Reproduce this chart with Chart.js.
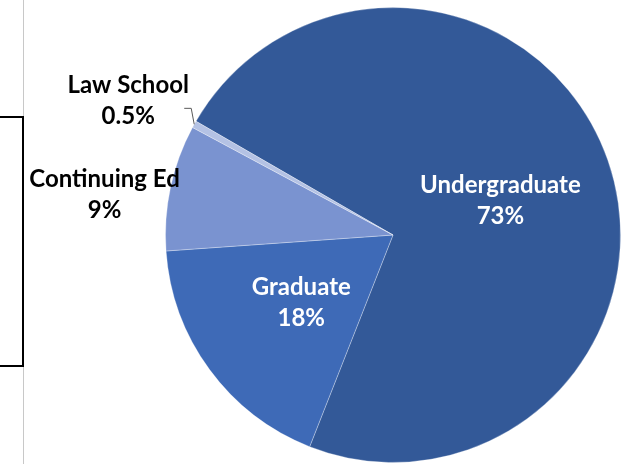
<!DOCTYPE html>
<html>
<head>
<meta charset="utf-8">
<script src="https://cdn.jsdelivr.net/npm/chart.js@4"></script>
<style>
  html, body { margin: 0; padding: 0; background: #fff; }
  #wrap { width: 628px; height: 464px; position: relative; }
</style>
</head>
<body>
<div id="wrap"><canvas id="enrollChart" width="628" height="464"></canvas></div>
<script>
//data
const categories = ['Undergraduate', 'Graduate', 'Continuing Ed', 'Law School'];
const shares = [73, 18, 9, 0.5];
const sliceColors = ['#335998', '#3e6ab7', '#7a93d0', '#b4c2e4'];

//label placement per slice: inside at half radius, or outside next to the rim
const labelSpots = [
  { inside: true, color: '#fff', dx: 0, dy: 3 },
  { inside: true, color: '#fff', dx: 0, dy: 0 },
  { inside: false, color: '#000', dx: -66, dy: 7 },
  { inside: false, color: '#000', dx: -66, dy: -24, leader: true }
];

//side bracket and divider on the left
const sideLines = {
  id: 'sideLines',
  beforeDraw(chart) {
    const ctx = chart.ctx;
    ctx.save();
    ctx.strokeStyle = '#c8c8c8';
    ctx.lineWidth = 1;
    ctx.beginPath();
    ctx.moveTo(23.5, 0);
    ctx.lineTo(23.5, chart.height);
    ctx.stroke();
    ctx.strokeStyle = '#000';
    ctx.lineWidth = 2;
    ctx.beginPath();
    ctx.moveTo(0, 117);
    ctx.lineTo(23, 117);
    ctx.lineTo(23, 366);
    ctx.lineTo(0, 366);
    ctx.stroke();
    ctx.restore();
  }
};

//category name + percent on each slice
const sliceLabels = {
  id: 'sliceLabels',
  afterDatasetsDraw(chart) {
    const ctx = chart.ctx;
    const arcs = chart.getDatasetMeta(0).data;
    ctx.save();
    ctx.font = 'bold 24px Lato';
    ctx.textAlign = 'center';
    ctx.textBaseline = 'middle';
    arcs.forEach((arc, i) => {
      const spot = labelSpots[i];
      const mid = (arc.startAngle + arc.endAngle) / 2;
      const r = spot.inside ? arc.outerRadius * 0.5 : arc.outerRadius;
      const ex = arc.x + Math.cos(mid) * r;
      const ey = arc.y + Math.sin(mid) * r;
      const tx = ex + spot.dx;
      const ty = ey + spot.dy;
      if (spot.leader) {
        ctx.strokeStyle = '#595959';
        ctx.lineWidth = 1;
        ctx.beginPath();
        ctx.moveTo(ex, ey);
        ctx.lineTo(ex - 3, ty + 8);
        ctx.lineTo(ex - 10, ty + 8);
        ctx.stroke();
      }
      ctx.fillStyle = spot.color;
      ctx.fillText(categories[i], tx, ty - 15);
      ctx.fillText(shares[i] + '%', tx, ty + 16);
    });
    ctx.restore();
  }
};

//config
const config = {
  type: 'pie',
  data: {
    labels: categories,
    datasets: [{
      data: shares,
      backgroundColor: sliceColors,
      borderColor: 'rgba(255,255,255,0.3)',
      borderWidth: 1
    }]
  },
  options: {
    responsive: false,
    animation: false,
    events: [],
    rotation: 300,
    layout: { padding: { left: 165, right: 7, top: 7, bottom: 1 } },
    plugins: {
      legend: { display: false },
      tooltip: { enabled: false }
    }
  },
  plugins: [sideLines, sliceLabels]
};

//render
const enrollChart = new Chart(document.getElementById('enrollChart'), config);
</script>
</body>
</html>
